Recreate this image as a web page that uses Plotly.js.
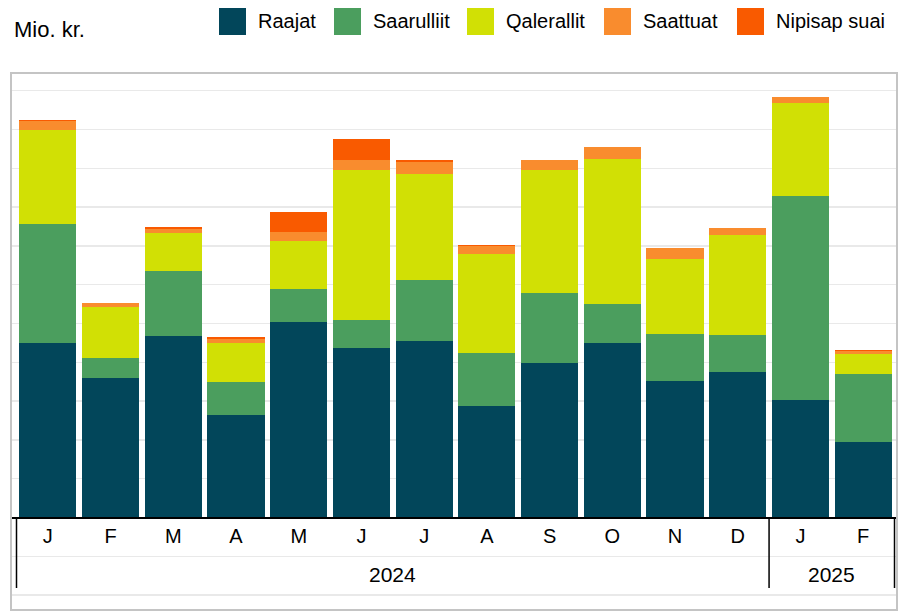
<!DOCTYPE html>
<html>
<head>
<meta charset="utf-8">
<script src="https://cdn.plot.ly/plotly-3.0.1.min.js"></script>
<style>html,body{margin:0;padding:0;background:#fff;}#chart{width:909px;height:612px;}</style>
</head>
<body>
<div id="chart"></div>
<script>
// ---- data (Mio. kr.) ----
const years  = ['2024','2024','2024','2024','2024','2024','2024','2024','2024','2024','2024','2024','2025','2025'];
const months = ['J','F','M','A','M','J','J','A','S','O','N','D','J','F'];
const seriesNames = ['Raajat','Saarulliit','Qalerallit','Saattuat','Nipisap suai'];
const raajat     = [44.97, 35.95, 46.78, 26.42, 50.39, 43.69, 45.49, 28.74, 39.82, 44.97, 35.18, 37.50, 30.28, 19.46];
const saarulliit = [30.67,  5.15, 16.75,  8.51,  8.51,  7.22, 15.72, 13.66, 18.04, 10.05, 12.11,  9.54, 52.58, 17.53];
const qalerallit = [24.23, 13.14,  9.79, 10.05, 12.37, 38.66, 27.32, 25.52, 31.70, 37.37, 19.33, 25.77, 23.97,  5.15];
const saattuat   = [ 2.32,  1.03,  1.11,  1.11,  2.32,  2.58,  3.09,  2.06,  2.58,  3.09,  2.84,  1.80,  1.55,  0.77];
const nipisap    = [ 0.26,  0.00,  0.36,  0.44,  5.15,  5.41,  0.52,  0.26,  0.00,  0.00,  0.00,  0.00,  0.00,  0.34];
const colors = ['#02465a', '#4b9e5e', '#d1e005', '#f98c2e', '#f95a00'];
const unitTitle = 'Mio. kr.';

// ---- geometry ----
const W = 909, H = 612;
const M = {l: 11, r: 12, t: 73, b: 2};
const PW = W - M.l - M.r, PH = H - M.t - M.b;
const px2x = p => (p - M.l) / PW;
const py2y = p => (H - M.b - p) / PH;
const zeroPx = 517.5, pxPerUnit = 3.88;
const yMin = -(H - M.b - zeroPx) / pxPerUnit;
const yMax = yMin + PH / pxPerUnit;
const pitch = (894.5 - 16.5) / 14;
const xMin = -0.5 - (16.5 - M.l) / pitch;
const xMax = 13.5 + (M.l + PW - 894.5) / pitch;

// unique category keys for repeated month letters (zero-width spaces keep the label visually identical)
const seen = {};
const monthKeys = months.map((m) => {
  seen[m] = (seen[m] || 0) + 1;
  return m + '\u200b'.repeat(seen[m] - 1);
});

const font = 'Liberation Sans, Arial, sans-serif';
const allSeries = [raajat, saarulliit, qalerallit, saattuat, nipisap];
const traces = allSeries.map((vals, i) => ({
  type: 'bar', x: monthKeys, y: vals, name: seriesNames[i],
  marker: {color: colors[i], line: {width: 0}}, showlegend: false, hoverinfo: 'skip'
}));

const shapes = [{type: 'rect', xref: 'paper', yref: 'paper', x0: 0, x1: 1, y0: 0, y1: 1,
  line: {color: '#c4c4c4', width: 2}, fillcolor: 'rgba(0,0,0,0)', layer: 'above'}];
const annotations = [{xref: 'paper', yref: 'paper', x: px2x(12), y: py2y(29), xanchor: 'left', yanchor: 'middle',
  text: unitTitle, showarrow: false, font: {family: font, size: 22, color: '#000'}}];

// year groups: labels + dividers
const groups = [];
years.forEach((y, i) => {
  if (!groups.length || groups[groups.length - 1].year !== y) groups.push({year: y, start: i, end: i});
  else groups[groups.length - 1].end = i;
});
const divY0 = py2y(zeroPx), divY1 = py2y(588);
groups.forEach((g, gi) => {
  annotations.push({xref: 'x', yref: 'paper', x: (g.start + g.end) / 2, y: py2y(574), xanchor: 'center', yanchor: 'middle',
    text: g.year, showarrow: false, font: {family: font, size: 21, color: '#000'}});
  if (gi === 0) shapes.push({type: 'line', xref: 'x', yref: 'paper', x0: g.start - 0.5, x1: g.start - 0.5, y0: divY0, y1: divY1, line: {color: '#000', width: 1.5}});
  shapes.push({type: 'line', xref: 'x', yref: 'paper', x0: g.end + 0.5, x1: g.end + 0.5, y0: divY0, y1: divY1, line: {color: '#000', width: 1.5}});
});

// custom legend
const swatchX = [219, 334, 467, 604, 737];
seriesNames.forEach((n, i) => {
  shapes.push({type: 'rect', xref: 'paper', yref: 'paper', x0: px2x(swatchX[i]), x1: px2x(swatchX[i] + 27),
    y0: py2y(35), y1: py2y(8), fillcolor: colors[i], line: {width: 0}});
  annotations.push({xref: 'paper', yref: 'paper', x: px2x(swatchX[i] + 37), y: py2y(21.5), xanchor: 'left', yanchor: 'middle',
    text: n, showarrow: false, font: {family: font, size: 20, color: '#000'}});
});

const layout = {
  width: W, height: H, margin: M, autosize: false,
  paper_bgcolor: '#fff', plot_bgcolor: '#fff',
  barmode: 'stack', bargap: 0.09,
  font: {family: font, color: '#000'},
  xaxis: {type: 'category', anchor: 'free', position: py2y(zeroPx), range: [xMin, xMax],
    showline: true, linecolor: '#000', linewidth: 2, ticks: '', showgrid: false,
    tickfont: {family: font, size: 20, color: '#000'}},
  yaxis: {range: [yMin, yMax], tick0: 0, dtick: 10, showticklabels: false, ticks: '',
    showgrid: true, gridcolor: '#e9e9e9', gridwidth: 1.5, zeroline: false, showline: false},
  shapes: shapes, annotations: annotations, hovermode: false
};
Plotly.newPlot('chart', traces, layout, {staticPlot: true, displayModeBar: false});
</script>
</body>
</html>
